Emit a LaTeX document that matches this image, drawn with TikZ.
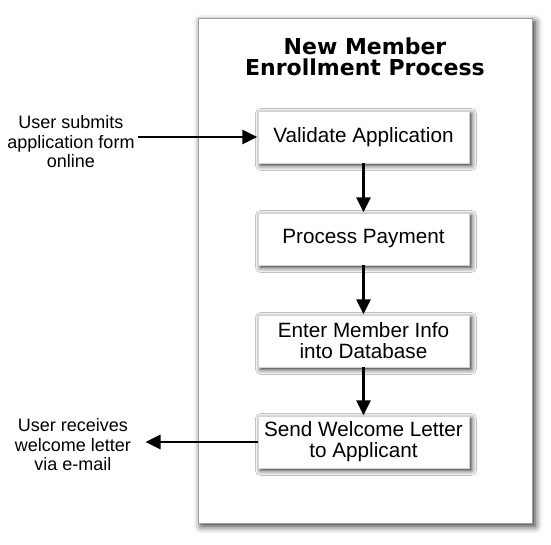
\documentclass[tikz,border=0pt]{standalone}
\usepackage{fontspec}
\setmainfont{Liberation Sans}
\newfontfamily\titlefont{DejaVu Sans}
\usetikzlibrary{shadows.blur,arrows.meta}
\begin{document}
\begin{tikzpicture}[x=1pt,y=1pt,
  procbox/.style={draw=gray!35,line width=0.3pt,fill=white,minimum width=211pt,minimum height=52pt,
    align=center,inner sep=0pt,font=\fontsize{20.7}{21}\selectfont,
    blur shadow={shadow xshift=2.5pt,shadow yshift=-2.5pt,shadow blur radius=5pt,shadow opacity=85}},
  sidetext/.style={align=center,inner sep=0pt,font=\fontsize{18}{19.5}\selectfont},
  flow/.style={line width=2.8pt,-{Triangle[length=15pt,width=14pt]},shorten >=0.5pt}]
\useasboundingbox (0,0) rectangle (551,544);
\node[draw=gray!75,line width=1pt,fill=white,minimum width=334pt,minimum height=504pt,inner sep=0pt,
  blur shadow={shadow xshift=3pt,shadow yshift=-3pt,shadow blur radius=7pt,shadow opacity=85}] (frame) at (365,273) {};
\node[align=center,inner sep=0pt,font=\titlefont\bfseries\fontsize{22}{21}\selectfont] (title) at (365,487) {New Member\\Enrollment Process};
\node[procbox] (v) at (363.5,407) {Validate Application};
\node[procbox] (p) at (363.5,305) {Process Payment};
\node[procbox] (e) at (363.5,203) {Enter Member Info\\into Database};
\node[procbox] (s) at (363.5,102) {Send Welcome Letter\\to Applicant};
\node[sidetext] (in) at (71,402) {User submits\\application form\\online};
\node[sidetext] (out) at (73,99) {User receives\\welcome letter\\via e-mail};
\coordinate (inS) at (138,407);
\coordinate (outE) at (145,102);
\draw[flow] (inS) -- (v.west);
\draw[flow] (v) -- (p);
\draw[flow] (p) -- (e);
\draw[flow] (e) -- (s);
\draw[flow] (s.west) -- (outE);
\end{tikzpicture}
\end{document}
